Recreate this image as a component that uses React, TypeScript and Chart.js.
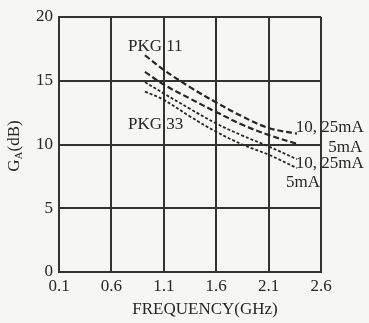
import React, { useEffect, useRef } from "react";
import { Chart, registerables } from "chart.js";

Chart.register(...registerables);

const xTickValues = [0.1, 0.6, 1.1, 1.6, 2.1, 2.6];
const yTickValues = [0, 5, 10, 15, 20];
const freqs = [0.92, 1.1, 1.35, 1.6, 1.85, 2.1, 2.37];
const pkg11High = [17.0, 15.85, 14.5, 13.3, 12.2, 11.3, 10.85];
const pkg11Low = [15.7, 14.7, 13.6, 12.55, 11.55, 10.75, 10.05];
const pkg33High = [14.9, 14.0, 12.8, 11.65, 10.7, 9.85, 8.85];
const pkg33Low = [14.15, 13.5, 12.2, 11.0, 10.0, 9.2, 8.15];
const xTitle = "FREQUENCY(GHz)";
const labels = ["PKG 11", "PKG 33", "10, 25mA", "5mA", "10, 25mA", "5mA"];

const FONT = '"Liberation Serif", "Times New Roman", serif';
const INK = "#262626";

const pts = (ys: number[]) => freqs.map((x, i) => ({ x, y: ys[i] }));

const textPlugin = {
  id: "textPlugin",
  afterDraw(chart: any) {
    const ctx = chart.ctx;
    const xs = chart.scales.x;
    const ys = chart.scales.y;
    ctx.save();
    ctx.fillStyle = INK;
    ctx.font = `17px ${FONT}`;
    ctx.textBaseline = "middle";
    ctx.textAlign = "left";
    const put = (t: string, fx: number, gy: number) =>
      ctx.fillText(t, xs.getPixelForValue(fx), ys.getPixelForValue(gy));
    put(labels[0], 0.758, 17.65);
    put(labels[1], 0.758, 11.55);
    put(labels[2], 2.36, 11.3);
    put(labels[3], 2.67, 9.8);
    put(labels[4], 2.36, 8.47);
    put(labels[5], 2.266, 6.98);
    ctx.textAlign = "center";
    ctx.fillText(xTitle, (chart.chartArea.left + chart.chartArea.right) / 2 + 15, 310);
    ctx.translate(15, 146);
    ctx.rotate(-Math.PI / 2);
    ctx.textAlign = "left";
    const g = "G";
    const a = "A";
    const rest = "(dB)";
    ctx.font = `17px ${FONT}`;
    const wG = ctx.measureText(g).width;
    const wR = ctx.measureText(rest).width;
    ctx.font = `11px ${FONT}`;
    const wA = ctx.measureText(a).width;
    const total = wG + wA + wR;
    let x0 = -total / 2;
    ctx.font = `17px ${FONT}`;
    ctx.fillText(g, x0, 0);
    x0 += wG;
    ctx.font = `11px ${FONT}`;
    ctx.fillText(a, x0, 4);
    x0 += wA;
    ctx.font = `17px ${FONT}`;
    ctx.fillText(rest, x0, 0);
    ctx.restore();
  },
};

const bgPlugin = {
  id: "bgPlugin",
  beforeDraw(chart: any) {
    const ctx = chart.ctx;
    ctx.save();
    ctx.fillStyle = "#f6f6f4";
    ctx.fillRect(0, 0, chart.width, chart.height);
    ctx.restore();
  },
};

export default function App() {
  const ref = useRef<HTMLCanvasElement | null>(null);
  useEffect(() => {
    document.body.style.margin = "0";
    if (!ref.current) return;
    const line = (data: number[], dash: number[], width: number) => ({
      data: pts(data),
      borderColor: INK,
      borderWidth: width,
      borderDash: dash,
      pointRadius: 0,
      tension: 0.4,
      fill: false,
    });
    const chart = new Chart(ref.current, {
      type: "line",
      data: {
        datasets: [
          line(pkg11High, [6, 3], 2.2),
          line(pkg11Low, [6, 3], 2.2),
          line(pkg33High, [3, 2], 1.8),
          line(pkg33Low, [3, 2], 1.8),
        ],
      },
      plugins: [bgPlugin, textPlugin],
      options: {
        responsive: false,
        animation: false,
        layout: { padding: { left: 0, top: 17, right: 48, bottom: 0 } },
        plugins: { legend: { display: false }, tooltip: { enabled: false } },
        scales: {
          x: {
            type: "linear",
            min: 0.1,
            max: 2.6,
            afterBuildTicks: (s: any) => {
              s.ticks = xTickValues.map((v) => ({ value: v }));
            },
            afterFit: (s: any) => {
              s.height = 51;
            },
            ticks: {
              color: INK,
              font: { family: FONT, size: 17 },
              padding: 4,
              maxRotation: 0,
              autoSkip: false,
              callback: (v: any) => Number(v).toFixed(1),
            },
            grid: { color: "#333", lineWidth: 2, drawTicks: false },
            border: { color: "#333", width: 2 },
          },
          y: {
            type: "linear",
            min: 0,
            max: 20,
            afterBuildTicks: (s: any) => {
              s.ticks = yTickValues.map((v) => ({ value: v }));
            },
            afterFit: (s: any) => {
              s.width = 59;
            },
            ticks: {
              color: INK,
              font: { family: FONT, size: 17 },
              padding: 6,
              autoSkip: false,
            },
            grid: { color: "#333", lineWidth: 2, drawTicks: false },
            border: { color: "#333", width: 2 },
          },
        },
      },
    } as any);
    return () => chart.destroy();
  }, []);
  return <canvas ref={ref} width={369} height={323} style={{ display: "block" }} />;
}
